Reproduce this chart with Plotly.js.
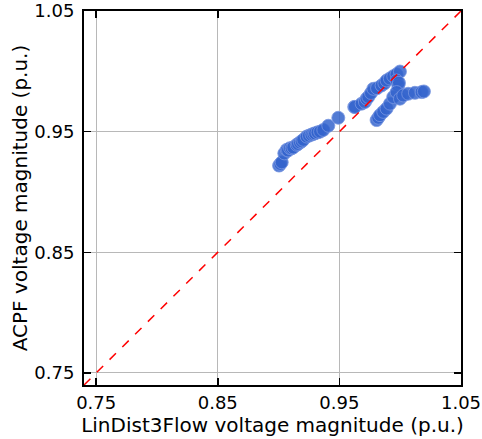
<!DOCTYPE html>
<html>
<head>
<meta charset="utf-8">
<script src="https://cdn.plot.ly/plotly-3.0.1.min.js"></script>
<style>html,body{margin:0;padding:0;background:#fff;}#plot{width:482px;height:439px;}</style>
</head>
<body>
<div id="plot"></div>
<script>
// LinDist3Flow voltage magnitudes (x) vs ACPF voltage magnitudes (y)
const linDist = [0.9004,0.9015,0.9026,0.9047,0.9067,0.9078,0.9094,0.9108,0.9121,0.9149,0.9160,0.9176,0.9190,0.9203,0.9231,0.9250,0.9270,0.9286,0.9300,0.9320,0.9341,0.9368,0.9409,0.9491,
  0.9622,0.9628,0.9683,0.9710,0.9724,0.9738,0.9760,0.9779,0.9810,0.9847,0.9870,0.9888,0.9915,0.9943,0.9970,0.9998,0.9971,0.9984,0.9990,
  0.9806,0.9820,0.9834,0.9861,0.9888,0.9916,0.9943,0.9971,0.9998,1.0025,
  1.0066,1.0121,1.0176,1.0195];
const acpf = [0.9219,0.9232,0.9246,0.9320,0.9350,0.9344,0.9363,0.9362,0.9369,0.9391,0.9398,0.9410,0.9420,0.9432,0.9459,0.9467,0.9475,0.9481,0.9486,0.9494,0.9500,0.9514,0.9549,0.9615,
  0.9705,0.9705,0.9732,0.9746,0.9773,0.9787,0.9820,0.9855,0.9860,0.9883,0.9900,0.9924,0.9940,0.9959,0.9975,0.9998,0.9924,0.9883,0.9905,
  0.9596,0.9615,0.9637,0.9664,0.9691,0.9732,0.9787,0.9828,0.9773,0.9800,
  0.9814,0.9822,0.9828,0.9833];
const diag = [0.74, 1.05];
const tickVals = [0.75, 0.85, 0.95, 1.05];
const tickText = ['0.75', '0.85', '0.95', '1.05'];

const tickFont = {family: 'DejaVu Sans', size: 18, color: '#000'};
const titleFont = {family: 'DejaVu Sans', size: 20, color: '#000'};
const axisCommon = {
  range: [0.74, 1.05], tickvals: tickVals, ticktext: tickText,
  showline: true, linecolor: '#000', linewidth: 2, mirror: 'ticks',
  ticks: 'inside', ticklen: 7, tickwidth: 1.5, tickcolor: '#000',
  showgrid: true, gridcolor: '#b8b8b8', gridwidth: 1, zeroline: false,
  tickfont: tickFont, ticklabeloverflow: 'allow'
};
const traces = [
  {x: linDist, y: acpf, mode: 'markers', type: 'scatter',
   marker: {size: 13, color: 'rgba(52,100,205,0.85)', line: {color: 'rgba(120,150,225,0.8)', width: 1}}},
  {x: diag, y: diag, mode: 'lines', type: 'scatter',
   line: {color: '#ff0000', dash: 'dash', width: 1.5}}
];
const layout = {
  width: 482, height: 439,
  margin: {l: 84, r: 21, t: 11, b: 54},
  showlegend: false,
  paper_bgcolor: '#fff', plot_bgcolor: '#fff',
  xaxis: Object.assign({}, axisCommon, {ticklabelstandoff: 0, title: {text: 'LinDist3Flow voltage magnitude (p.u.)', font: titleFont, standoff: 4}}),
  yaxis: Object.assign({}, axisCommon, {ticklabelstandoff: 4, title: {text: 'ACPF voltage magnitude (p.u.)', font: titleFont, standoff: 1}})
};
Plotly.newPlot('plot', traces, layout, {displayModeBar: false, staticPlot: true});
</script>
</body>
</html>
